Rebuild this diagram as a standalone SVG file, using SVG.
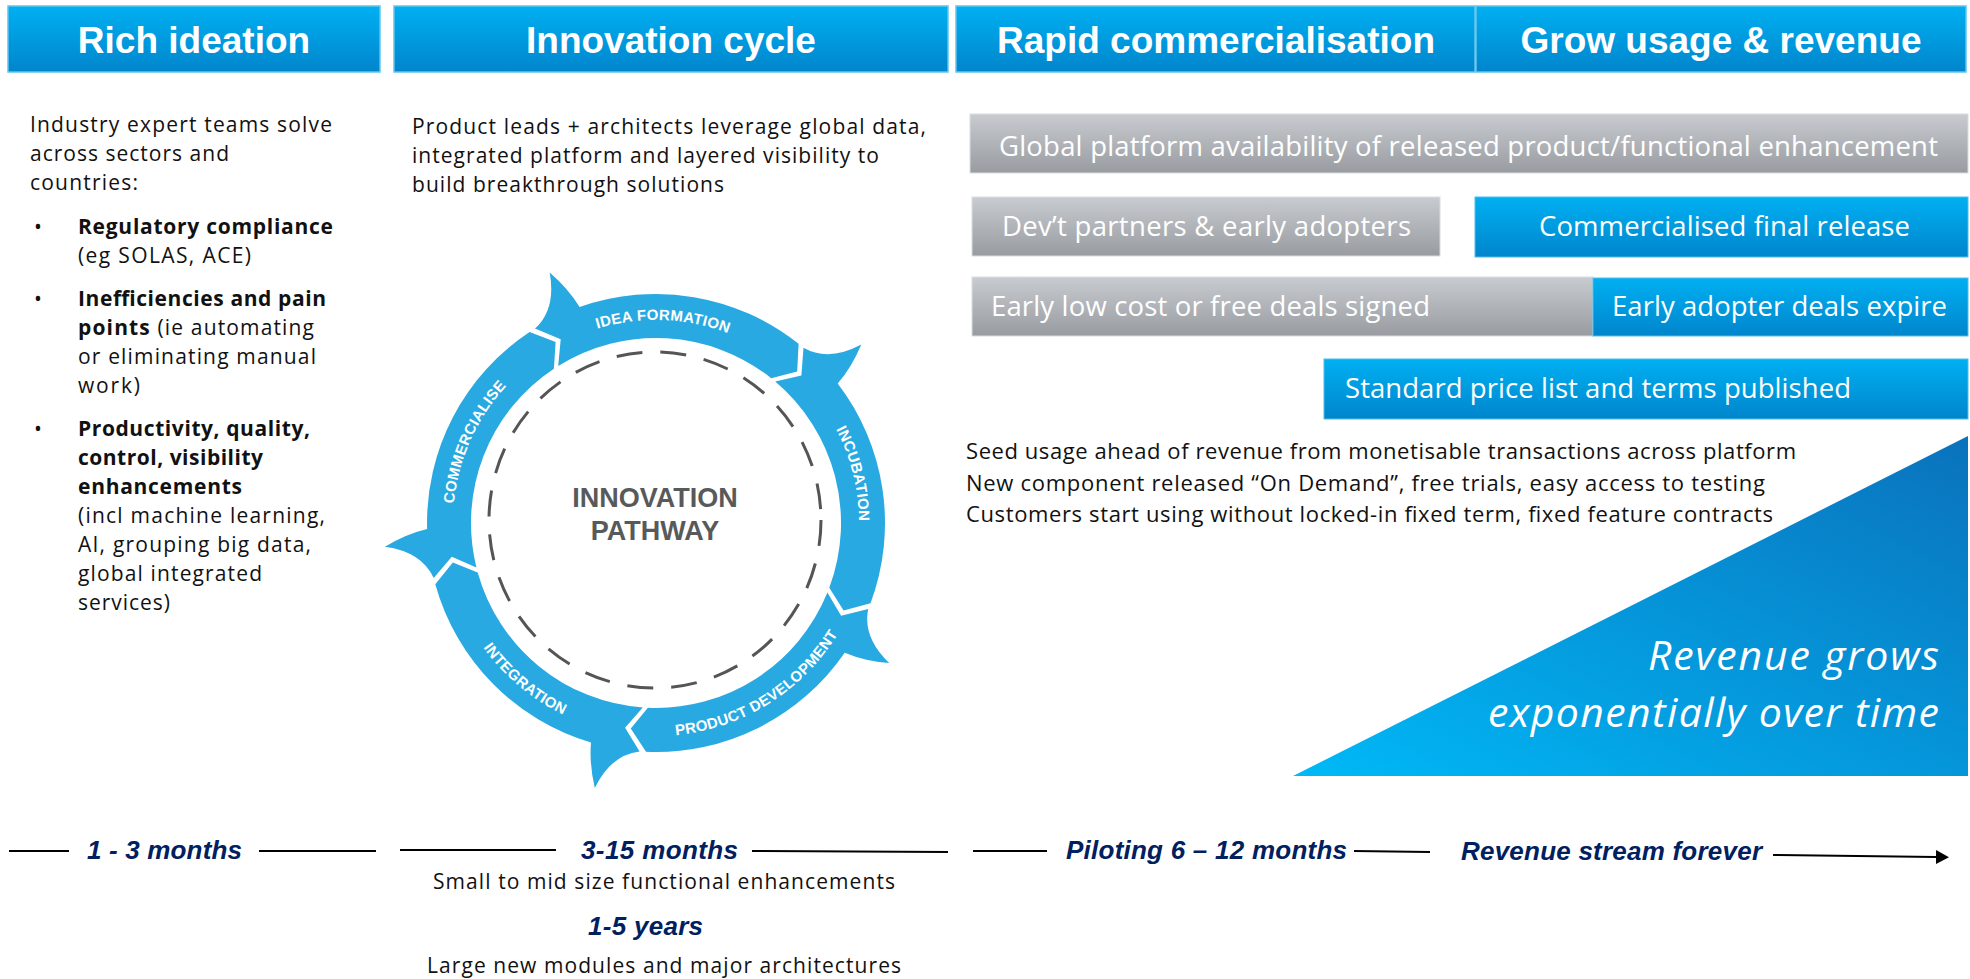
<svg xmlns="http://www.w3.org/2000/svg" width="1970" height="979" viewBox="0 0 1970 979">
<defs>
  <linearGradient id="gBlue" x1="0" y1="0" x2="0" y2="1">
    <stop offset="0" stop-color="#00B0F2"/>
    <stop offset="1" stop-color="#0085CC"/>
  </linearGradient>
  <linearGradient id="gGray" x1="0" y1="0" x2="0" y2="1">
    <stop offset="0" stop-color="#C8CCD0"/>
    <stop offset="1" stop-color="#989CA1"/>
  </linearGradient>
  <linearGradient id="gTri" x1="0" y1="1" x2="1" y2="0">
    <stop offset="0" stop-color="#00B9F7"/>
    <stop offset="1" stop-color="#0A72BC"/>
  </linearGradient>
  <marker id="arrow" markerUnits="userSpaceOnUse" viewBox="0 0 14 14" refX="0" refY="7" markerWidth="14" markerHeight="14" orient="auto">
    <path d="M0,0 L13,7 L0,14 Z" fill="#000"/>
  </marker>
  <path id="tp-idea" d="M505.1,387.2 A203,203 0 0 1 816.0,398.0"/>
  <path id="tp-incu" d="M745.0,340.5 A203,203 0 0 1 820.2,642.3"/>
  <path id="tp-comm" d="M473.5,612.0 A203,203 0 0 1 600.1,327.9"/>
  <path id="tp-prod" d="M590.2,725.6 A213,213 0 0 0 866.9,552.6"/>
  <path id="tp-integ" d="M443,523 A213,213 0 0 0 693.0,732.8"/>
</defs>
<style>
  .hdr { fill: url(#gBlue); stroke: #62C5EE; stroke-width: 1.5; }
  .hdrText { font-family: "Liberation Sans", Arial, sans-serif; font-weight: 700; font-size: 37px; fill: #FFFFFF; text-anchor: middle; }
  .body { font-family: "Open Sans", "Liberation Sans", sans-serif; font-size: 21px; fill: #111111; }
  .seed { font-family: "Open Sans", "Liberation Sans", sans-serif; font-size: 22px; fill: #111111; }
  .bold { font-weight: 700; }
  .grayBar { fill: url(#gGray); stroke: #D9DCDF; stroke-width: 1; }
  .blueBar { fill: url(#gBlue); stroke: #4FBDEB; stroke-width: 1; }
  .barText { font-family: "Open Sans", "Liberation Sans", sans-serif; font-size: 27.5px; fill: #FFFFFF; }
  .tl { font-family: "Liberation Sans", Arial, sans-serif; font-weight: 700; font-style: italic; font-size: 26px; fill: #002060; }
  .ring { fill: #29A9E1; }
  .ringText { font-family: "Liberation Sans", Arial, sans-serif; font-weight: 700; font-size: 15px; fill: #FFFFFF; letter-spacing: 0.3px; }
  .conn { stroke: #000000; stroke-width: 2; fill: none; }
  .bigItalic { font-family: "Open Sans", "Liberation Sans", sans-serif; font-style: italic; font-size: 41px; fill: #FFFFFF; }
</style>
<rect x="0" y="0" width="1970" height="979" fill="#FFFFFF"/>

<!-- Headers -->
<g id="hdr-rich-ideation">
  <rect class="hdr" x="8" y="6" width="372" height="66"/>
  <text class="hdrText" x="194" y="53">Rich ideation</text>
</g>
<g id="hdr-innovation-cycle">
  <rect class="hdr" x="394" y="6" width="554" height="66"/>
  <text class="hdrText" x="671" y="53">Innovation cycle</text>
</g>
<g id="hdr-rapid-commercialisation">
  <rect class="hdr" x="956" y="6" width="519" height="66"/>
  <text class="hdrText" x="1216" y="53">Rapid commercialisation</text>
</g>
<g id="hdr-grow-usage">
  <rect class="hdr" x="1476" y="6" width="490" height="66"/>
  <text class="hdrText" x="1721" y="53">Grow usage &amp; revenue</text>
</g>

<!-- Rich ideation text -->
<g id="rich-ideation-text" class="body">
  <text x="30" y="132" textLength="302">Industry expert teams solve</text>
  <text x="30" y="161" textLength="199">across sectors and</text>
  <text x="30" y="190" textLength="108">countries:</text>
  <text x="34" y="234">•</text>
  <text x="78" y="234" class="bold" textLength="255">Regulatory compliance</text>
  <text x="78" y="263" textLength="173">(eg SOLAS, ACE)</text>
  <text x="34" y="306">•</text>
  <text x="78" y="306" class="bold" textLength="248">Inefficiencies and pain</text>
  <text x="78" y="335" textLength="236"><tspan class="bold">points</tspan> (ie automating</text>
  <text x="78" y="364" textLength="238">or eliminating manual</text>
  <text x="78" y="393" textLength="62">work)</text>
  <text x="34" y="436">•</text>
  <text x="78" y="436" class="bold" textLength="232">Productivity, quality,</text>
  <text x="78" y="465" class="bold" textLength="185">control, visibility</text>
  <text x="78" y="494" class="bold" textLength="164">enhancements</text>
  <text x="78" y="523" textLength="247">(incl machine learning,</text>
  <text x="78" y="552" textLength="233">AI, grouping big data,</text>
  <text x="78" y="581" textLength="184">global integrated</text>
  <text x="78" y="610" textLength="92">services)</text>
</g>

<!-- Innovation cycle text -->
<g id="innovation-cycle-text" class="body">
  <text x="412" y="134" textLength="514">Product leads + architects leverage global data,</text>
  <text x="412" y="163" textLength="467">integrated platform and layered visibility to</text>
  <text x="412" y="192" textLength="312">build breakthrough solutions</text>
</g>

<!-- Innovation pathway cycle -->
<g id="innovation-pathway">
  <ellipse cx="655" cy="520" rx="166" ry="168" fill="none" stroke="#555555" stroke-width="3" stroke-dasharray="26 18"/>
  <text x="655" y="507" text-anchor="middle" font-family="Liberation Sans, Arial, sans-serif" font-weight="700" font-size="27" fill="#58595B">INNOVATION</text>
  <text x="655" y="540" text-anchor="middle" font-family="Liberation Sans, Arial, sans-serif" font-weight="700" font-size="27" fill="#58595B">PATHWAY</text>
</g>
<g id="seg-idea-formation">
  <path class="ring" d="M535.0,328.6 Q556.3,309.1 549.7,272.6 Q568.4,288.8 579.6,307.1 A229,229 0 0 1 798.6,343.8 L797.2,371.6 L771.2,378.2 A185,185 0 0 0 558.2,366.0 L560.7,339.2 Z"/>
  <text class="ringText"><textPath href="#tp-idea" startOffset="50%" text-anchor="middle">IDEA FORMATION</textPath></text>
</g>
<g id="seg-incubation">
  <path class="ring" d="M803.5,347.8 Q828.6,362.0 861.3,344.5 Q851.7,367.4 837.7,383.6 A229,229 0 0 1 870.5,603.2 L843.6,610.5 L829.3,587.8 A185,185 0 0 0 775.2,381.5 L801.4,375.6 Z"/>
  <text class="ringText"><textPath href="#tp-incu" startOffset="50%" text-anchor="middle">INCUBATION</textPath></text>
</g>
<g id="seg-product-development">
  <path class="ring" d="M868.2,609.1 Q862.4,637.4 889.2,663.1 Q864.5,661.0 844.7,652.7 A229,229 0 0 1 646.0,751.8 L630.8,728.4 L647.9,707.8 A185,185 0 0 0 827.4,592.6 L841.1,615.7 Z"/>
  <text class="ringText"><textPath href="#tp-prod" startOffset="50%" text-anchor="middle">PRODUCT DEVELOPMENT</textPath></text>
</g>
<g id="seg-integration">
  <path class="ring" d="M639.6,751.4 Q611.0,754.7 594.8,788.0 Q589.2,763.9 591.0,742.6 A229,229 0 0 1 435.3,584.2 L452.8,562.5 L477.7,572.4 A185,185 0 0 0 642.8,707.5 L625.1,727.7 Z"/>
  <text class="ringText"><textPath href="#tp-integ" startOffset="50%" text-anchor="middle">INTEGRATION</textPath></text>
</g>
<g id="seg-commercialise">
  <path class="ring" d="M433.7,578.0 Q421.8,551.8 385.0,546.7 Q406.2,533.9 427.1,529.0 A229,229 0 0 1 529.6,332.0 L555.6,342.0 L553.9,368.7 A185,185 0 0 0 476.4,567.4 L451.8,556.8 Z"/>
  <text class="ringText"><textPath href="#tp-comm" startOffset="50%" text-anchor="middle">COMMERCIALISE</textPath></text>
</g>

<!-- Commercialisation bars -->
<g id="bar-global-platform">
  <rect class="grayBar" x="970" y="114" width="998" height="59"/>
  <text class="barText" x="999" y="156" textLength="939">Global platform availability of released product/functional enhancement</text>
</g>
<g id="bar-dev-partners">
  <rect class="grayBar" x="972" y="197" width="468" height="59"/>
  <text class="barText" x="1002" y="236" textLength="409">Dev’t partners &amp; early adopters</text>
</g>
<g id="bar-commercialised">
  <rect class="blueBar" x="1475" y="197" width="493" height="60"/>
  <text class="barText" x="1539" y="236" textLength="371">Commercialised final release</text>
</g>
<g id="bar-early-low-cost">
  <rect class="grayBar" x="972" y="277" width="621" height="59"/>
  <text class="barText" x="991" y="316" textLength="439">Early low cost or free deals signed</text>
</g>
<g id="bar-early-adopter-expire">
  <rect class="blueBar" x="1593" y="278" width="375" height="58"/>
  <text class="barText" x="1612" y="316" textLength="335">Early adopter deals expire</text>
</g>
<g id="bar-standard-price">
  <rect class="blueBar" x="1324" y="359" width="644" height="60"/>
  <text class="barText" x="1345" y="398" textLength="506">Standard price list and terms published</text>
</g>

<!-- Seed usage text -->
<g id="seed-usage-text" class="seed">
  <text x="966" y="459" textLength="830">Seed usage ahead of revenue from monetisable transactions across platform</text>
  <text x="966" y="491" textLength="799">New component released “On Demand”, free trials, easy access to testing</text>
  <text x="966" y="522" textLength="807">Customers start using without locked-in fixed term, fixed feature contracts</text>
</g>

<!-- Revenue triangle -->
<g id="revenue-triangle">
  <polygon points="1293,776 1968,776 1968,436" fill="url(#gTri)"/>
  <text class="bigItalic" x="1648" y="670" textLength="291">Revenue grows</text>
  <text class="bigItalic" x="1488" y="727" textLength="451">exponentially over time</text>
</g>

<!-- Timeline -->
<g id="connectors" class="conn">
  <line x1="9" y1="851" x2="69" y2="851"/>
  <line x1="259" y1="851" x2="376" y2="851"/>
  <line x1="400" y1="850" x2="556" y2="850"/>
  <line x1="752" y1="851" x2="948" y2="852"/>
  <line x1="973" y1="851" x2="1047" y2="851"/>
  <line x1="1354" y1="851" x2="1430" y2="852"/>
  <line x1="1773" y1="855" x2="1936" y2="857" marker-end="url(#arrow)"/>
</g>
<g id="timeline-labels">
  <text class="tl" x="87" y="859" textLength="155">1 - 3 months</text>
  <text class="tl" x="581" y="859" textLength="157">3-15 months</text>
  <text class="body" x="433" y="889" textLength="462">Small to mid size functional enhancements</text>
  <text class="tl" x="588" y="935" textLength="115">1-5 years</text>
  <text class="body" x="427" y="973" textLength="474">Large new modules and major architectures</text>
  <text class="tl" x="1066" y="859" textLength="281">Piloting 6 – 12 months</text>
  <text class="tl" x="1461" y="860" textLength="301">Revenue stream forever</text>
</g>
</svg>
